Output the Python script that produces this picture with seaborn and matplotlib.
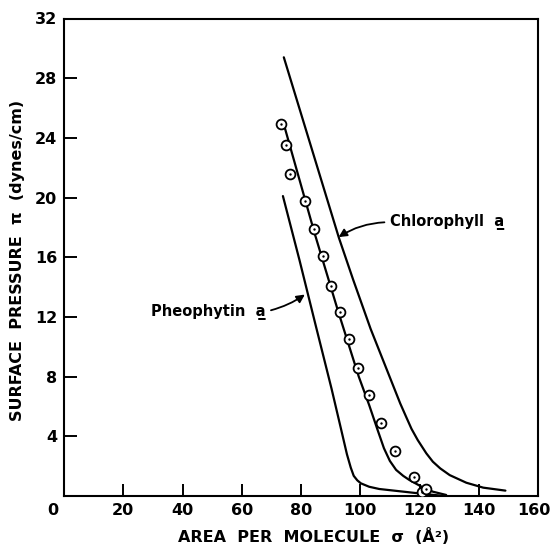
import matplotlib
matplotlib.use("Agg")
import matplotlib.pyplot as plt
import matplotlib.transforms as mtransforms
import seaborn as sns
import pandas as pd

# ---- data ----
chl_x = [74.2, 92.8, 97.6, 103.5, 110.1, 113.5, 115.5, 117.3, 119.4, 122.3, 124.5, 127.0, 130.2, 135.8, 141.5, 149.0]
chl_y = [29.4, 17.3, 14.5, 11.2, 7.9, 6.2, 5.3, 4.5, 3.75, 2.86, 2.3, 1.85, 1.4, 0.89, 0.56, 0.36]

mid_x = [74.5, 84.6, 92.5, 99.5, 103.0, 105.9, 108.0, 110.0, 112.1, 114.5, 116.6, 121.1, 124.5, 129.0]
mid_y = [24.7, 17.6, 12.4, 8.0, 6.1, 4.4, 3.2, 2.35, 1.75, 1.35, 1.07, 0.58, 0.29, 0.07]

pheo_x = [73.9, 79.5, 85.0, 90.3, 93.5, 95.5, 96.8, 97.8, 99.0, 100.2, 103.0, 106.4, 115.5, 122.3, 127.0]
pheo_y = [20.1, 15.8, 11.4, 7.2, 4.5, 2.8, 1.9, 1.35, 1.05, 0.85, 0.62, 0.47, 0.27, 0.12, 0.03]

obs_x = [73.4, 75.0, 76.2, 81.2, 84.3, 87.5, 90.1, 93.1, 96.3, 99.3, 103.1, 107.0, 111.7, 118.3, 121.0, 122.3]
obs_y = [24.9, 23.5, 21.6, 19.8, 17.9, 16.1, 14.1, 12.35, 10.5, 8.6, 6.8, 4.9, 3.0, 1.3, 0.25, 0.47]

x_ticks = [0, 20, 40, 60, 80, 100, 120, 140, 160]
y_ticks = [4, 8, 12, 16, 20, 24, 28, 32]

labels = ["Chlorophyll  a\u0332", "Pheophytin  a\u0332"]
x_label = "AREA  PER  MOLECULE  \u03c3  (\u00c5\u00b2)"
y_label = "SURFACE  PRESSURE  \u03c0  (dynes/cm)"

sns.set_theme(style="ticks")
plt.rcParams["font.family"] = ["DejaVu Sans"]
plt.rcParams["font.weight"] = "bold"
plt.rcParams["text.color"] = "black"
plt.rcParams["axes.labelcolor"] = "black"

fig = plt.figure(figsize=(5.52, 5.44), dpi=100)
ax = fig.add_axes([64 / 552, 48 / 544, 474 / 552, 477.5 / 544])

lw = 1.6
for xs, ys in [(chl_x, chl_y), (mid_x, mid_y), (pheo_x, pheo_y)]:
    df = pd.DataFrame({"x": xs, "y": ys})
    sns.lineplot(data=df, x="x", y="y", ax=ax, color="black", linewidth=lw,
                 sort=False, estimator=None)
for ln in ax.get_lines():
    ln.set_solid_joinstyle("round")

dfo = pd.DataFrame({"x": obs_x, "y": obs_y})
sns.scatterplot(data=dfo, x="x", y="y", ax=ax, s=50, facecolor="white",
                edgecolor="black", linewidth=1.3, zorder=4)
sns.scatterplot(data=dfo, x="x", y="y", ax=ax, s=3, color="black",
                linewidth=0, zorder=5)

ax.set_xlim(0, 160)
ax.set_ylim(0, 32)
ax.set_xticks(x_ticks)
ax.set_xticklabels([str(v) for v in x_ticks])
ax.set_yticks(y_ticks)
ax.set_yticklabels([str(v) for v in y_ticks])

for s in ax.spines.values():
    s.set_linewidth(1.5)
    s.set_color("black")
ax.tick_params(axis="both", direction="in", length=9, width=1.4,
               labelsize=11.5, colors="black", pad=5)
for lab in ax.get_xticklabels() + ax.get_yticklabels():
    lab.set_fontweight("bold")
    lab.set_color("black")

# nudge the end labels as in the reference
xls = ax.get_xticklabels()
off0 = mtransforms.ScaledTranslation(-11 / 100, 0, fig.dpi_scale_trans)
xls[0].set_transform(xls[0].get_transform() + off0)
offn = mtransforms.ScaledTranslation(-4 / 100, 0, fig.dpi_scale_trans)
xls[-1].set_transform(xls[-1].get_transform() + offn)

ax.set_xlabel(x_label, fontsize=11.5, fontweight="bold", color="black")
ax.set_ylabel(y_label, fontsize=11.5, fontweight="bold", color="black")
ax.xaxis.set_label_coords(0.527, -0.066)
ax.yaxis.set_label_coords(-0.082, 0.494)

ax.annotate(labels[0], xy=(92.7, 17.35), xytext=(110.2, 18.35),
            fontsize=10.5, fontweight="bold", va="center", ha="left",
            color="black",
            arrowprops=dict(arrowstyle="-|>", color="black", lw=1.3,
                            mutation_scale=12, shrinkA=2, shrinkB=0,
                            relpos=(0, 0.5),
                            connectionstyle="arc3,rad=0.15"))
ax.annotate(labels[1], xy=(81.3, 13.5), xytext=(29.2, 12.35),
            fontsize=10.5, fontweight="bold", va="center", ha="left",
            color="black",
            arrowprops=dict(arrowstyle="-|>", color="black", lw=1.3,
                            mutation_scale=12, shrinkA=2, shrinkB=0,
                            relpos=(1, 0.5),
                            connectionstyle="arc3,rad=0.1"))

fig.savefig("out.png", dpi=100, facecolor="white")
